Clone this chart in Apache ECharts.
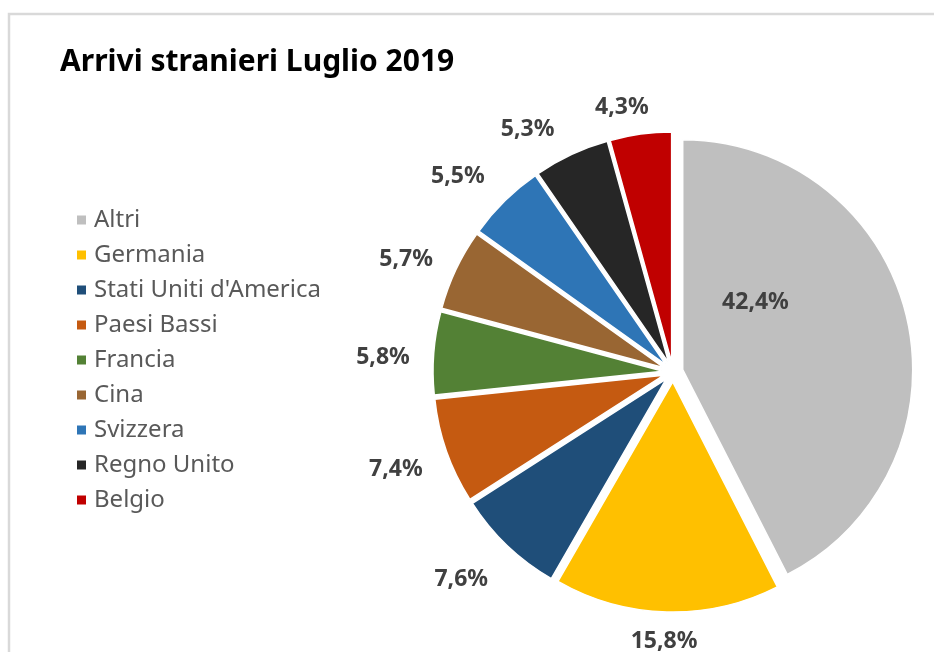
<!DOCTYPE html>
<html>
<head>
<meta charset="utf-8">
<script src="https://cdn.jsdelivr.net/npm/echarts@6/dist/echarts.min.js"></script>
<style>
  html, body { margin: 0; padding: 0; background: #fff; }
  #chart { width: 934px; height: 652px; }
</style>
</head>
<body>
<div id="chart"></div>
<script>
const countries = ['Altri', 'Germania', "Stati Uniti d'America", 'Paesi Bassi', 'Francia', 'Cina', 'Svizzera', 'Regno Unito', 'Belgio']
const shares = [42.4, 15.8, 7.6, 7.4, 5.8, 5.7, 5.5, 5.3, 4.3]
const colors = ['#BFBFBF', '#FFC000', '#1F4E79', '#C55A11', '#538135', '#996633', '#2E75B6', '#262626', '#C00000']

// small nudges so the percentage labels sit where Excel put them
const labelNudge = [[-42, -40], [36, 8], [-4, 18], [-3, 11], [-2, 6], [-3, -1], [-4, -9], [1, -9], [16, -5]]

const chart = echarts.init(document.getElementById('chart'))

const option = {
  animation: false,
  color: colors,
  title: {
    text: 'Arrivi stranieri Luglio 2019',
    left: 55,
    top: 42,
    textStyle: { fontFamily: 'Noto Sans', fontWeight: 'bold', fontSize: 30, color: '#000' },
  },
  graphic: [{
    type: 'rect',
    shape: { x: 9, y: 14, width: 1000, height: 700 },
    style: { fill: 'none', stroke: '#D9D9D9', lineWidth: 2.5 },
    silent: true,
  }],
  legend: {
    orient: 'vertical',
    left: 70,
    top: 203,
    itemWidth: 11,
    itemHeight: 11,
    itemGap: 11,
    icon: 'rect',
    selectedMode: false,
    textStyle: { fontFamily: 'Noto Sans', fontSize: 24, lineHeight: 24, color: '#595959', padding: [0, 0, 0, 2] },
    data: countries,
  },
  series: [{
    type: 'pie',
    center: [673, 372],
    radius: 230,
    startAngle: 90,
    selectedMode: 'multiple',
    selectedOffset: 10,
    itemStyle: { borderColor: '#fff', borderWidth: 1.5 },
    emphasis: { disabled: true },
    label: {
      position: 'outside',
      fontFamily: 'Noto Sans',
      fontWeight: 'bold',
      fontSize: 23,
      color: '#404040',
      formatter: p => p.value.toFixed(1).replace('.', ',') + '%',
    },
    labelLine: { show: false, length: 22, length2: 0 },
    labelLayout: p => ({ dx: labelNudge[p.dataIndex][0], dy: labelNudge[p.dataIndex][1] }),
    data: countries.map((name, i) => ({
      name,
      value: shares[i],
      selected: true,
      label: i === 0 ? { position: 'inside' } : undefined,
    })),
  }],
}

chart.setOption(option)
</script>
</body>
</html>
